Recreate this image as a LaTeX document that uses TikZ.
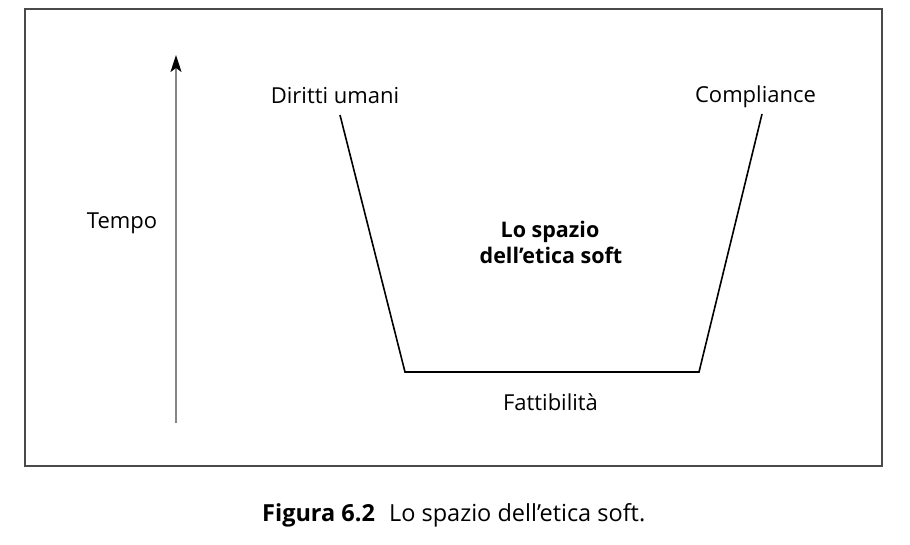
\documentclass[tikz,border=0pt]{standalone}
\usepackage{fontspec}
\setmainfont{Open Sans}
\usetikzlibrary{arrows.meta}
\definecolor{framegray}{HTML}{4A4A4A}
\definecolor{axisgray}{HTML}{858585}
\tikzset{
  lbl/.style={inner sep=0pt, anchor=base, font=\fontsize{22}{26}\selectfont, text=black},
  boldlbl/.style={lbl, font=\fontsize{21.5}{26}\selectfont\bfseries, align=center},
  edge/.style={draw=black, line width=1.6pt, line join=miter},
  axis/.style={draw=axisgray, line width=1.5pt, -{Stealth[length=17pt,width=11pt,inset=4pt,color=black]}},
}
\begin{document}
\begin{tikzpicture}[x=1pt,y=-1pt]
  \useasboundingbox (0,0) rectangle (910,544);
  % frame
  \draw[framegray, line width=1.8pt] (25,9) rectangle (882,466);
  % axis
  \coordinate (abot) at (176,423);
  \coordinate (atop) at (176,55);
  \draw[axis] (abot) -- (atop);
  \node[lbl] (tempo) at (122,228) {Tempo};
  % labels
  \node[lbl] (dir) at (335,103) {Diritti umani};
  \node[lbl] (comp) at (755.5,102) {Compliance};
  \node[lbl] (fatt) at (550.5,410) {Fattibilità};
  \node[boldlbl, anchor=base] (sp1) at (550,237) {Lo spazio};
  \node[boldlbl, anchor=base] (sp2) at (551,263) {dell’etica soft};
  % trapezoid
  \coordinate (tl) at (340,115);
  \coordinate (bl) at (405,372);
  \coordinate (br) at (699,372);
  \coordinate (tr) at (762,114);
  \draw[edge] (tl) -- (bl) -- (br) -- (tr);
  % caption
  \node[lbl, anchor=base west, font=\fontsize{23.5}{28}\selectfont] (cap) at (262,521) {\textbf{Figura 6.2}\hspace{0.6em}Lo spazio dell’etica soft.};
\end{tikzpicture}
\end{document}
